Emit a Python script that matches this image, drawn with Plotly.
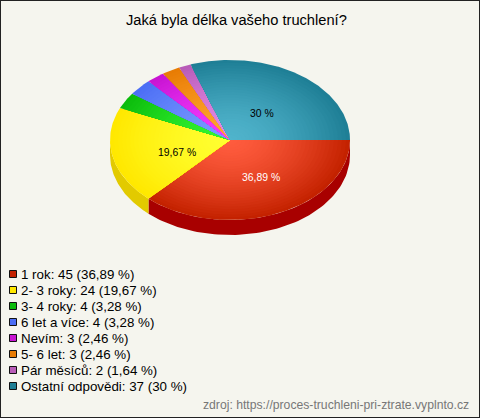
import numpy as np
import plotly.graph_objects as go

categories = ["1 rok", "2- 3 roky", "3- 4 roky", "6 let a více", "Nevím", "5- 6 let", "Pár měsíců", "Ostatní odpovědi"]
values = [45, 24, 4, 4, 3, 3, 2, 37]
percent_labels = ["36,89 %", "19,67 %", "3,28 %", "3,28 %", "2,46 %", "2,46 %", "1,64 %", "30 %"]
edge_colors = ["#C42200", "#FFE800", "#0CBC0C", "#4C6EF5", "#C814D2", "#E87C04", "#B85CB8", "#1F7F96"]
center_colors = ["#FF5C3E", "#FFFF30", "#33F533", "#7A9BFF", "#F53CFF", "#FFA52E", "#E58AE5", "#50B4CC"]
side_colors = ["#A80000", "#E2CA00"]

W, H = 480, 418
CX, CY, RX, RY, DEPTH = 230, 140, 120, 80, 15
STEPS = 30


def rgb(h):
    return np.array([int(h[i:i + 2], 16) for i in (1, 3, 5)], float)


def mix(a, b, t):
    c = rgb(a) * (1 - t) + rgb(b) * t
    return f"rgb({c[0]:.0f},{c[1]:.0f},{c[2]:.0f})"


total = sum(values)
angles = np.concatenate([[0], np.cumsum(values)]) / total * 2 * np.pi

fig = go.Figure()


def poly(xs, ys, color):
    fig.add_trace(go.Scatter(x=xs, y=ys, mode="lines", fill="toself", fillcolor=color,
                             line=dict(width=0, color=color), hoverinfo="skip", showlegend=False))


# extruded rim (only the part facing the viewer)
for i, color in enumerate(side_colors):
    a0, a1 = angles[i], min(angles[i + 1], np.pi)
    t = np.linspace(a0, a1, 80)
    xs = CX + RX * np.cos(t)
    ys = CY + RY * np.sin(t)
    poly(np.r_[xs, xs[::-1], xs[0]], np.r_[ys, ys[::-1] + DEPTH, ys[0]], color)

# top face, radial shading built from nested wedges
for i in range(len(values)):
    t = np.linspace(angles[i], angles[i + 1], max(12, int(values[i] * 4)))
    for s in range(STEPS, 0, -1):
        f = s / STEPS
        xs = CX + RX * f * np.cos(t)
        ys = CY + RY * f * np.sin(t)
        poly(np.r_[CX, xs, CX], np.r_[CY, ys, CY], mix(center_colors[i], edge_colors[i], f ** 1.5))

annotations = [
    dict(x=236.5, y=20, text="Jaká byla délka vašeho truchlení?", showarrow=False,
         font=dict(size=14.67, color="#000000")),
    dict(x=261, y=177, text=percent_labels[0], showarrow=False, font=dict(size=10.4, color="#FFFFFF")),
    dict(x=177, y=152, text=percent_labels[1], showarrow=False, font=dict(size=10.4, color="#000000")),
    dict(x=262, y=113, text=percent_labels[7], showarrow=False, font=dict(size=10.4, color="#000000")),
    dict(x=471, y=405, text="zdroj: https://proces-truchleni-pri-ztrate.vyplnto.cz", showarrow=False,
         xanchor="right", font=dict(size=12.2, color="#777777")),
]
shapes = [dict(type="rect", xref="paper", yref="paper", x0=0, x1=1, y0=0, y1=1,
               line=dict(color="#222222", width=2), fillcolor="rgba(0,0,0,0)")]

for i, (c, v, p) in enumerate(zip(categories, values, percent_labels)):
    y = 274 + 16 * i
    annotations.append(dict(x=18.5, y=y, text=f"{c}: {v} ({p})", showarrow=False, xanchor="left",
                            font=dict(size=13.33, color="#000000")))
    shapes.append(dict(type="rect", x0=9.5, x1=16.5, y0=y - 3.5, y1=y + 3.5, fillcolor=edge_colors[i],
                       line=dict(color="#111111", width=1)))

fig.update_layout(
    width=W, height=H, margin=dict(l=0, r=0, t=0, b=0), autosize=False,
    paper_bgcolor="#F5F5EE", plot_bgcolor="#F5F5EE", showlegend=False,
    font=dict(family="Liberation Sans, Arial, sans-serif"),
    xaxis=dict(range=[0, W], visible=False, fixedrange=True),
    yaxis=dict(range=[H, 0], visible=False, fixedrange=True),
    annotations=annotations, shapes=shapes,
)
fig.write_html("out.html", config=dict(displayModeBar=False),
               post_script="document.body.style.margin='0';document.body.style.overflow='hidden';")
